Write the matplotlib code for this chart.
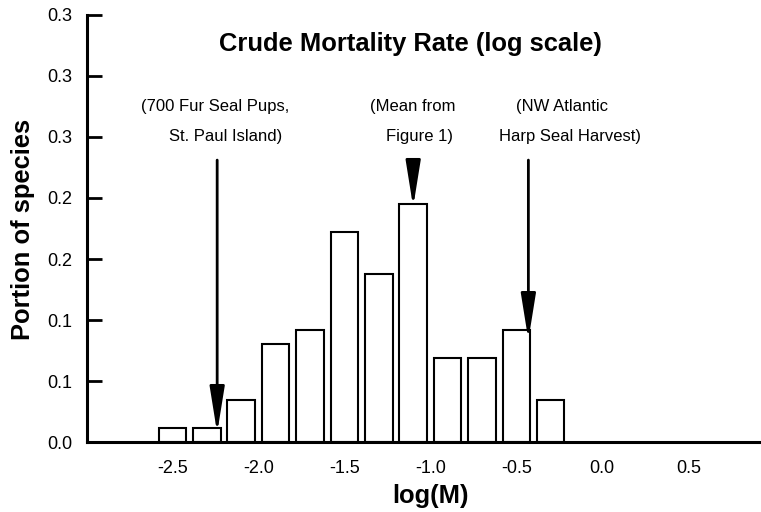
import matplotlib

matplotlib.use("Agg")

import matplotlib.pyplot as plt
from matplotlib.patches import ArrowStyle

# histogram of log(M), bin centres and portion of species
bin_centers = [-2.5, -2.3, -2.1, -1.9, -1.7, -1.5, -1.3, -1.1, -0.9, -0.7, -0.5, -0.3]
portions = [0.0115, 0.0115, 0.0345, 0.0805, 0.0920, 0.1724, 0.1379, 0.1954,
            0.0690, 0.0690, 0.0920, 0.0345]

# y ticks and the (rounded) labels printed on the original
y_ticks = [0.0, 0.05, 0.10, 0.15, 0.20, 0.25, 0.30, 0.35]
y_tick_labels = ["0.0", "0.1", "0.1", "0.2", "0.2", "0.3", "0.3", "0.3"]
x_ticks = [-2.5, -2.0, -1.5, -1.0, -0.5, 0.0, 0.5]
x_tick_labels = ["-2.5", "-2.0", "-1.5", "-1.0", "-0.5", "0.0", "0.5"]

# reference markers: x position, arrow tip height
marker_x = [-2.24, -1.10, -0.43]
marker_tip = [0.0076, 0.1926, 0.0837]
marker_top = 0.231
marker_lines = [
    ["(700 Fur Seal Pups,", "St. Paul Island)"],
    ["(Mean from", "Figure 1)"],
    ["(NW Atlantic", "Harp Seal Harvest)"],
]

W, H = 761, 512


def px(x, y):
    return x / W, 1 - y / H


plt.rcParams["font.family"] = ["Liberation Sans", "DejaVu Sans"]

fig = plt.figure(figsize=(W / 100, H / 100), dpi=100)
left, top = px(86.5, 14.7)
right, bottom = px(761, 442.3)
ax = fig.add_axes([left, bottom, right - left, top - bottom])

ax.bar(bin_centers, portions, width=0.16, color="white", edgecolor="black",
       linewidth=1.5, zorder=2)

ax.set_xlim(-3.0, 0.923)
ax.set_ylim(0, 0.35)
ax.set_yticks(y_ticks)
ax.set_yticklabels(y_tick_labels)
ax.set_xticks(x_ticks)
ax.set_xticklabels(x_tick_labels)
ax.tick_params(axis="y", direction="in", length=11, width=2, pad=10, labelsize=13)
ax.tick_params(axis="x", length=0, pad=13, labelsize=13)

for side in ["top", "right"]:
    ax.spines[side].set_visible(False)
for side in ["left", "bottom"]:
    ax.spines[side].set_linewidth(2.2)

style = ArrowStyle("-|>", head_length=2.8, head_width=0.45)
for xm, tip in zip(marker_x, marker_tip):
    ax.annotate("", xy=(xm, tip), xytext=(xm, marker_top),
                arrowprops=dict(arrowstyle=style, mutation_scale=10, color="black",
                                linewidth=2, shrinkA=0, shrinkB=0), zorder=3)

# annotation text, line by line (the original lines are not aligned)
text_pos = [
    [(215, 106), (226, 136)],
    [(413, 106), (420, 136)],
    [(562, 106), (570, 136)],
]
for lines, pos in zip(marker_lines, text_pos):
    for line, (x, y) in zip(lines, pos):
        fig.text(*px(x, y), line, ha="center", va="center", fontsize=12)

fig.text(*px(410, 44), "Crude Mortality Rate (log scale)", ha="center", va="center",
         fontsize=18.4, fontweight="bold")
fig.text(*px(23, 229), "Portion of species", ha="center", va="center",
         rotation=90, fontsize=18.4, fontweight="bold")
fig.text(*px(431, 496), "log(M)", ha="center", va="center",
         fontsize=18.4, fontweight="bold")

fig.savefig("out.png", dpi=100)
